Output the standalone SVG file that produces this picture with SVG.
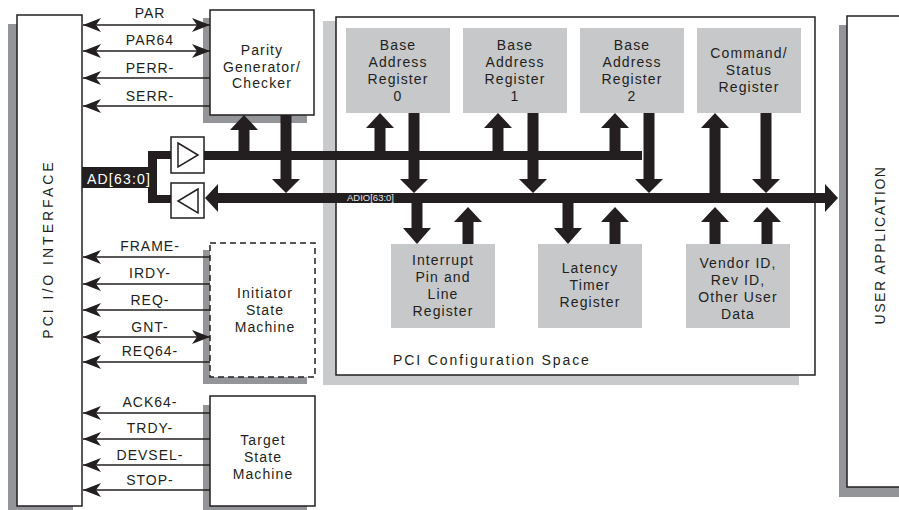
<svg xmlns="http://www.w3.org/2000/svg" width="899" height="510" viewBox="0 0 899 510">
<defs>
<style>
text{font-family:"Liberation Sans",Arial,sans-serif;fill:#231f20;}
.t{font-size:14px;letter-spacing:1.1px;text-anchor:middle;}
.sig{font-size:14px;letter-spacing:1px;text-anchor:middle;}
.box{fill:#fff;stroke:#231f20;stroke-width:1.5;}
.sh{fill:#939598;}
.lsh{fill:#c9cacc;}
.reg{fill:#c7c8ca;}
.ln{stroke:#231f20;stroke-width:1.5;fill:none;}
.blk{fill:#231f20;}
</style>
<marker id="ah" markerUnits="userSpaceOnUse" markerWidth="20" markerHeight="16" viewBox="-19 -8 20 16" refX="0" refY="0" orient="auto-start-reverse">
<path d="M0,0 L-18,-7 L-13,0 L-18,7 Z" fill="#231f20"/>
</marker>
</defs>
<rect width="899" height="510" fill="#fff"/>

<g id="pci-io">
<rect class="sh" x="8" y="24" width="65" height="491"/>
<rect class="box" x="17" y="15" width="65" height="491"/>
<text class="t" transform="translate(53,249) rotate(-90)" style="letter-spacing:3px">PCI I/O INTERFACE</text>
</g>

<g id="user-app">
<rect class="sh" x="839" y="25" width="70" height="472"/>
<rect class="box" x="847" y="16" width="70" height="471"/>
<text class="t" transform="translate(885,245) rotate(-90)" style="letter-spacing:1.6px">USER APPLICATION</text>
</g>

<g id="config-space">
<rect class="lsh" x="323" y="21" width="476" height="364"/>
<rect class="box" x="336" y="17" width="479" height="358"/>
<text x="393" y="365" style="font-size:14px;letter-spacing:1.9px">PCI Configuration Space</text>
</g>

<g id="parity">
<rect class="sh" x="203" y="18" width="104" height="105"/>
<rect class="box" x="210" y="10" width="104" height="105"/>
<text class="t" x="262" y="55">Parity</text>
<text class="t" x="262" y="72">Generator/</text>
<text class="t" x="262" y="88">Checker</text>
</g>

<g id="initiator">
<rect class="sh" x="203" y="250" width="104" height="134"/>
<rect class="box" x="210" y="243" width="105" height="134" stroke-dasharray="6 4"/>
<text class="t" x="265" y="298">Initiator</text>
<text class="t" x="265" y="315">State</text>
<text class="t" x="265" y="332">Machine</text>
</g>

<g id="target">
<rect class="sh" x="203" y="405" width="104" height="110"/>
<rect class="box" x="210" y="396" width="105" height="110"/>
<text class="t" x="263" y="445">Target</text>
<text class="t" x="263" y="462">State</text>
<text class="t" x="263" y="479">Machine</text>
</g>

<g id="bar0">
<rect class="reg" x="346" y="28" width="104" height="85"/>
<text class="t" x="398" y="50">Base</text>
<text class="t" x="398" y="67">Address</text>
<text class="t" x="398" y="84">Register</text>
<text class="t" x="398" y="101">0</text>
</g>
<g id="bar1">
<rect class="reg" x="463" y="28" width="104" height="85"/>
<text class="t" x="515" y="50">Base</text>
<text class="t" x="515" y="67">Address</text>
<text class="t" x="515" y="84">Register</text>
<text class="t" x="515" y="101">1</text>
</g>
<g id="bar2">
<rect class="reg" x="580" y="28" width="104" height="85"/>
<text class="t" x="632" y="50">Base</text>
<text class="t" x="632" y="67">Address</text>
<text class="t" x="632" y="84">Register</text>
<text class="t" x="632" y="101">2</text>
</g>
<g id="cmd-status">
<rect class="reg" x="697" y="28" width="104" height="85"/>
<text class="t" x="749" y="58">Command/</text>
<text class="t" x="749" y="75">Status</text>
<text class="t" x="749" y="92">Register</text>
</g>
<g id="interrupt">
<rect class="reg" x="391" y="244" width="104" height="84"/>
<text class="t" x="443" y="265">Interrupt</text>
<text class="t" x="443" y="282">Pin and</text>
<text class="t" x="443" y="299">Line</text>
<text class="t" x="443" y="316">Register</text>
</g>
<g id="latency">
<rect class="reg" x="538" y="244" width="104" height="84"/>
<text class="t" x="590" y="273">Latency</text>
<text class="t" x="590" y="290">Timer</text>
<text class="t" x="590" y="307">Register</text>
</g>
<g id="vendor">
<rect class="reg" x="686" y="244" width="104" height="84"/>
<text class="t" x="738" y="268">Vendor ID,</text>
<text class="t" x="738" y="285">Rev ID,</text>
<text class="t" x="738" y="302">Other User</text>
<text class="t" x="738" y="319">Data</text>
</g>

<g id="buffers">
<rect class="box" x="171" y="137" width="33" height="36"/>
<path class="ln" d="M178,143 L198,155 L178,167 Z"/>
<rect class="box" x="171" y="183" width="33" height="35"/>
<path class="ln" d="M198,189 L178,201 L198,213 Z"/>
</g>

<g id="connectors">
<!-- AD bracket and label -->
<path class="blk" d="M148,151 H171 V159 H157 V195 H171 V203 H148 Z"/>
<rect class="blk" x="82" y="167" width="75" height="21"/>
<text x="87" y="184" style="font-size:14px;letter-spacing:1.2px;fill:#fff">AD[63:0]</text>
<!-- top bus -->
<rect class="blk" x="204" y="151" width="438" height="9"/>
<!-- ADIO bus -->
<path class="blk" d="M205,198 L218,184 L218,193 L825,193 L825,184 L838,198 L825,212 L825,203 L218,203 L218,212 Z"/>
<text x="347" y="201" style="font-size:9.5px;fill:#e6e6e6">ADIO[63:0]</text>

<!-- block arrows: up (tip at top) -->
<path class="blk" d="M244,115 L258,130 L249.5,130 L249.5,155 L238.5,155 L238.5,130 L230,130 Z"/>
<path class="blk" d="M380,113 L394,128 L385.5,128 L385.5,155 L374.5,155 L374.5,128 L366,128 Z"/>
<path class="blk" d="M498,113 L512,128 L503.5,128 L503.5,155 L492.5,155 L492.5,128 L484,128 Z"/>
<path class="blk" d="M615,113 L629,128 L620.5,128 L620.5,155 L609.5,155 L609.5,128 L601,128 Z"/>
<path class="blk" d="M715,113 L729,128 L720.5,128 L720.5,198 L709.5,198 L709.5,128 L701,128 Z"/>
<!-- block arrows: down (tip at bottom) -->
<path class="blk" d="M286,193 L300,179 L291.5,179 L291.5,115 L280.5,115 L280.5,179 L272,179 Z"/>
<path class="blk" d="M414,193 L428,179 L419.5,179 L419.5,113 L408.5,113 L408.5,179 L400,179 Z"/>
<path class="blk" d="M533,193 L547,179 L538.5,179 L538.5,113 L527.5,113 L527.5,179 L519,179 Z"/>
<path class="blk" d="M649,193 L663,179 L654.5,179 L654.5,113 L643.5,113 L643.5,179 L635,179 Z"/>
<path class="blk" d="M766,193 L780,179 L771.5,179 L771.5,113 L760.5,113 L760.5,179 L752,179 Z"/>
<!-- below bus: down arrows into boxes -->
<path class="blk" d="M417,244 L431,228 L422.5,228 L422.5,203 L411.5,203 L411.5,228 L403,228 Z"/>
<path class="blk" d="M568,244 L582,228 L573.5,228 L573.5,203 L562.5,203 L562.5,228 L554,228 Z"/>
<!-- below bus: up arrows out of boxes -->
<path class="blk" d="M468,207 L482,222 L473.5,222 L473.5,244 L462.5,244 L462.5,222 L454,222 Z"/>
<path class="blk" d="M615,207 L629,222 L620.5,222 L620.5,244 L609.5,244 L609.5,222 L601,222 Z"/>
<path class="blk" d="M715,207 L729,222 L720.5,222 L720.5,244 L709.5,244 L709.5,222 L701,222 Z"/>
<path class="blk" d="M767,207 L781,222 L772.5,222 L772.5,244 L761.5,244 L761.5,222 L753,222 Z"/>

<!-- parity signals -->
<line class="ln" x1="210" y1="25" x2="83" y2="25" marker-start="url(#ah)" marker-end="url(#ah)"/>
<line class="ln" x1="210" y1="51" x2="83" y2="51" marker-start="url(#ah)" marker-end="url(#ah)"/>
<line class="ln" x1="210" y1="78" x2="83" y2="78" marker-end="url(#ah)"/>
<line class="ln" x1="210" y1="106" x2="83" y2="106" marker-end="url(#ah)"/>
<!-- initiator signals -->
<line class="ln" x1="210" y1="257" x2="83" y2="257" marker-end="url(#ah)"/>
<line class="ln" x1="210" y1="284" x2="83" y2="284" marker-end="url(#ah)"/>
<line class="ln" x1="210" y1="310" x2="83" y2="310" marker-end="url(#ah)"/>
<line class="ln" x1="210" y1="337" x2="83" y2="337" marker-start="url(#ah)" marker-end="url(#ah)"/>
<line class="ln" x1="210" y1="362" x2="83" y2="362" marker-end="url(#ah)"/>
<!-- target signals -->
<line class="ln" x1="210" y1="413" x2="83" y2="413" marker-end="url(#ah)"/>
<line class="ln" x1="210" y1="439" x2="83" y2="439" marker-end="url(#ah)"/>
<line class="ln" x1="210" y1="465" x2="83" y2="465" marker-end="url(#ah)"/>
<line class="ln" x1="210" y1="490" x2="83" y2="490" marker-end="url(#ah)"/>

<text class="sig" x="150" y="18">PAR</text>
<text class="sig" x="150" y="45">PAR64</text>
<text class="sig" x="150" y="73">PERR-</text>
<text class="sig" x="150" y="101">SERR-</text>
<text class="sig" x="150" y="251">FRAME-</text>
<text class="sig" x="150" y="278">IRDY-</text>
<text class="sig" x="150" y="305">REQ-</text>
<text class="sig" x="150" y="332">GNT-</text>
<text class="sig" x="150" y="356">REQ64-</text>
<text class="sig" x="150" y="407">ACK64-</text>
<text class="sig" x="150" y="433">TRDY-</text>
<text class="sig" x="150" y="460">DEVSEL-</text>
<text class="sig" x="150" y="485">STOP-</text>
</g>
</svg>
